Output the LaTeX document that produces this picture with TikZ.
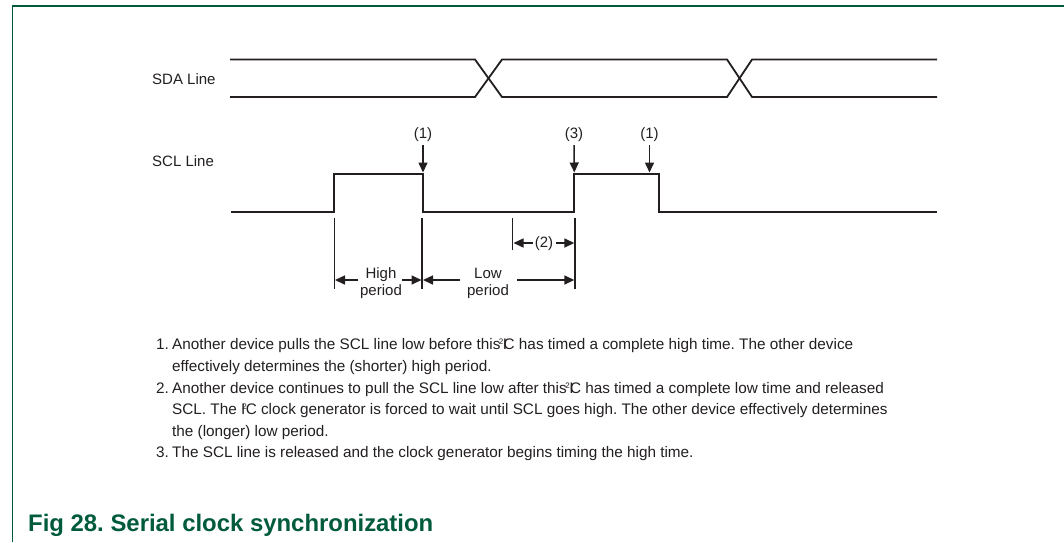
\documentclass[tikz,border=0pt]{standalone}
\usepackage{fontspec}
\setmainfont{Liberation Sans}
\usetikzlibrary{arrows.meta}
\definecolor{nxpgreen}{RGB}{0,90,60}
\definecolor{ink}{RGB}{35,31,32}
\newcommand{\iicA}{this\kern-1.5pt\raisebox{5pt}{\fontsize{8}{8}\selectfont 2}\kern-0.5pt I\kern-3.5pt C}
\newcommand{\iicB}{I\kern-3pt\raisebox{5pt}{\fontsize{8}{8}\selectfont 2}\kern-1pt C}
\begin{document}
\frenchspacing
\begin{tikzpicture}[x=1pt,y=-1pt,
  wave/.style={draw=ink,line width=1.8pt,line join=miter},
  dimline/.style={draw=ink,line width=1.5pt},
  tip/.style={-{Triangle[length=10pt,width=9pt]}},
  lbl/.style={font=\fontsize{15}{18}\selectfont,text=ink,inner sep=0pt},
  note/.style={font=\fontsize{15.3}{18}\selectfont,text=ink,inner sep=0pt,anchor=base west},
]
\useasboundingbox (0,0) rectangle (1064,542);
\fill[white] (0,0) rectangle (1064,542);
% frame
\coordinate (fb) at (12.5,542);
\coordinate (fc) at (12.5,6);
\coordinate (fr) at (1064,6);
\draw[nxpgreen,line width=1.3pt] (fb) -- (fc) -- (fr);

% labels
\node[lbl,anchor=base west] (sdalbl) at (152,84) {SDA Line};
\node[lbl,anchor=base west] (scllbl) at (152,166) {SCL Line};

% SDA
\coordinate (a0) at (230,59.5);
\coordinate (a1) at (475,59.5);
\coordinate (a2) at (502,97);
\coordinate (a3) at (727,97);
\coordinate (a4) at (752,59.5);
\coordinate (a5) at (937,59.5);
\coordinate (b0) at (230,97);
\coordinate (b1) at (475,97);
\coordinate (b2) at (502,59.5);
\coordinate (b3) at (727,59.5);
\coordinate (b4) at (752,97);
\coordinate (b5) at (937,97);
\draw[wave] (a0) -- (a1) -- (a2) -- (a3) -- (a4) -- (a5);
\draw[wave] (b0) -- (b1) -- (b2) -- (b3) -- (b4) -- (b5);

% SCL
\coordinate (c0) at (231,211.7);
\coordinate (c1) at (334.3,211.7);
\coordinate (c2) at (334.3,174.3);
\coordinate (c3) at (422.7,174.3);
\coordinate (c4) at (422.7,211.7);
\coordinate (c5) at (574.3,211.7);
\coordinate (c6) at (574.3,174.3);
\coordinate (c7) at (659,174.3);
\coordinate (c8) at (659,211.7);
\coordinate (c9) at (937,211.7);
\draw[wave] (c0) -- (c1) -- (c2) -- (c3) -- (c4) -- (c5) -- (c6) -- (c7) -- (c8) -- (c9);

% event arrows
\node[lbl] (e1) at (423,135) {(1)};
\node[lbl] (e3) at (574,135) {(3)};
\node[lbl] (e1b) at (649.5,135) {(1)};
\coordinate (t1) at (423,172.5);
\coordinate (t3) at (574.3,172.5);
\coordinate (t1b) at (649.5,172.5);
\draw[dimline,tip] ([yshift=-3pt]e1.south) -- (t1);
\draw[dimline,tip] ([yshift=-3pt]e3.south) -- (t3);
\draw[dimline,tip] ([yshift=-3pt]e1b.south) -- (t1b);

% dimension verticals
\coordinate (v1t) at (334.3,218);  \coordinate (v1b) at (334.3,289);
\coordinate (v2t) at (422.2,218);  \coordinate (v2b) at (422.2,289);
\coordinate (v3t) at (512.7,218);  \coordinate (v3b) at (512.7,250);
\coordinate (v4t) at (575,218);    \coordinate (v4b) at (575,289);
\draw[dimline] (v1t) -- (v1b);
\draw[dimline] (v2t) -- (v2b);
\draw[dimline] (v3t) -- (v3b);
\draw[dimline] (v4t) -- (v4b);

% (2)
\node[lbl] (two) at (544,244) {(2)};
\coordinate (w2l) at (513.5,243);
\coordinate (w2r) at (574.3,243);
\draw[dimline,tip] ([xshift=-2pt]two.west |- w2l) -- (w2l);
\draw[dimline,tip] ([xshift=3pt]two.east |- w2r) -- (w2r);

% High period
\node[lbl,align=center,font=\fontsize{15}{17}\selectfont] (high) at (381,283) {High\\period};
\coordinate (hl) at (335,280);
\coordinate (hr) at (421.5,280);
\coordinate (hlt) at (358,280);
\coordinate (hrt) at (402,280);
\draw[dimline,tip] (hlt) -- (hl);
\draw[dimline,tip] (hrt) -- (hr);

% Low period
\node[lbl,align=center,font=\fontsize{15}{17}\selectfont] (low) at (488,283) {Low\\period};
\coordinate (ll) at (423,280);
\coordinate (lr) at (574.3,280);
\coordinate (llt) at (460,280);
\coordinate (lrt) at (517,280);
\draw[dimline,tip] (llt) -- (ll);
\draw[dimline,tip] (lrt) -- (lr);

% notes
\node[note] (n1) at (156,349) {1.};
\node[note] (n1a) at (172,349) {Another device pulls the SCL line low before \iicA{} has timed a complete high time. The other device};
\node[note] (n1b) at (172,371) {effectively determines the (shorter) high period.};
\node[note] (n2) at (156,393) {2.};
\node[note] (n2a) at (172,393) {Another device continues to pull the SCL line low after \iicA{} has timed a complete low time and released};
\node[note] (n2b) at (172,414.5) {SCL. The \iicB{} clock generator is forced to wait until SCL goes high. The other device effectively determines};
\node[note] (n2c) at (172,436) {the (longer) low period.};
\node[note] (n3) at (156,457.5) {3.};
\node[note] (n3a) at (172,457.5) {The SCL line is released and the clock generator begins timing the high time.};

% title
\node[anchor=base west,inner sep=0pt,text=nxpgreen,font=\fontsize{23.9}{28}\selectfont\bfseries] (title) at (28,531) {Fig 28.\ Serial clock synchronization};
\end{tikzpicture}
\end{document}
